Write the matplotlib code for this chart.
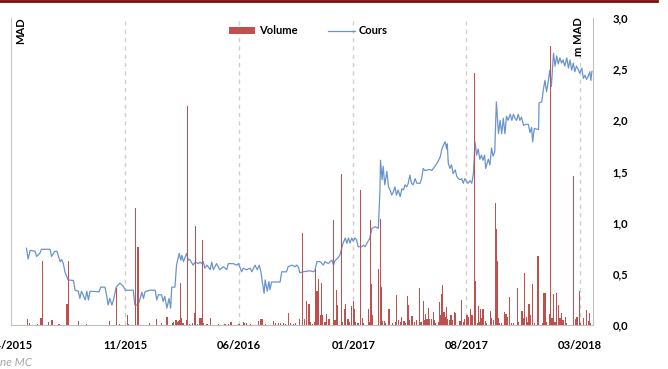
import numpy as np
import pandas as pd
import matplotlib
matplotlib.use("Agg")
import matplotlib.pyplot as plt
from matplotlib.lines import Line2D
from matplotlib.ticker import FuncFormatter

plt.rcParams['font.family'] = ['Lato', 'DejaVu Sans']

# cours (echelle gauche non visible)
price_dates = [
    "2015-04-30", "2015-05-03", "2015-05-07", "2015-05-16", "2015-05-19", "2015-05-25", "2015-05-28",
    "2015-06-13", "2015-06-16", "2015-06-22", "2015-06-26", "2015-06-29", "2015-07-02", "2015-07-05",
    "2015-07-08", "2015-07-11", "2015-07-17", "2015-07-27", "2015-07-30", "2015-08-05", "2015-08-08",
    "2015-08-11", "2015-08-18", "2015-08-21", "2015-08-24", "2015-08-27", "2015-09-13", "2015-09-16",
    "2015-09-24", "2015-09-27", "2015-09-30", "2015-10-03", "2015-10-07", "2015-10-10", "2015-10-15",
    "2015-10-22", "2015-10-28", "2015-11-01", "2015-11-16", "2015-11-19", "2015-11-25", "2015-11-29",
    "2015-12-02", "2015-12-05", "2015-12-08", "2015-12-17", "2015-12-27", "2015-12-30", "2016-01-02",
    "2016-01-08", "2016-01-11", "2016-01-14", "2016-01-18", "2016-01-22", "2016-01-25", "2016-01-27",
    "2016-02-02", "2016-02-05", "2016-02-10", "2016-02-13", "2016-02-15", "2016-02-18", "2016-02-24",
    "2016-02-27", "2016-03-01", "2016-03-07", "2016-03-11", "2016-03-17", "2016-03-20", "2016-03-23",
    "2016-03-26", "2016-03-29", "2016-04-02", "2016-04-08", "2016-04-11", "2016-04-14", "2016-04-20",
    "2016-04-26", "2016-05-03", "2016-05-09", "2016-05-12", "2016-05-21", "2016-05-28", "2016-05-31",
    "2016-06-06", "2016-06-09", "2016-06-15", "2016-06-22", "2016-06-25", "2016-07-01", "2016-07-05",
    "2016-07-09", "2016-07-12", "2016-07-15", "2016-07-18", "2016-07-20", "2016-07-24", "2016-07-27",
    "2016-07-29", "2016-08-01", "2016-08-17", "2016-08-20", "2016-08-29", "2016-09-01", "2016-09-08",
    "2016-09-14", "2016-09-17", "2016-09-20", "2016-09-23", "2016-09-29", "2016-10-06", "2016-10-12",
    "2016-10-18", "2016-10-21", "2016-10-25", "2016-10-31", "2016-11-06", "2016-11-09", "2016-11-15",
    "2016-11-22", "2016-11-25", "2016-11-28", "2016-12-04", "2016-12-07", "2016-12-13", "2016-12-17",
    "2016-12-20", "2016-12-23", "2016-12-26", "2016-12-29", "2017-01-01", "2017-01-04", "2017-01-07",
    "2017-01-10", "2017-01-17", "2017-01-20", "2017-01-23", "2017-01-29", "2017-02-01", "2017-02-05",
    "2017-02-11", "2017-02-17", "2017-02-20", "2017-02-21", "2017-02-24", "2017-02-26", "2017-03-01",
    "2017-03-05", "2017-03-08", "2017-03-11", "2017-03-14", "2017-03-17", "2017-03-20", "2017-03-23",
    "2017-03-26", "2017-03-30", "2017-04-02", "2017-04-05", "2017-04-08", "2017-04-11", "2017-04-14",
    "2017-04-17", "2017-04-20", "2017-04-23", "2017-04-27", "2017-04-30", "2017-05-06", "2017-05-09",
    "2017-05-12", "2017-05-15", "2017-05-25", "2017-05-28", "2017-06-03", "2017-06-09", "2017-06-13",
    "2017-06-16", "2017-06-19", "2017-06-22", "2017-06-25", "2017-06-26", "2017-06-28", "2017-07-01",
    "2017-07-04", "2017-07-07", "2017-07-11", "2017-07-14", "2017-07-17", "2017-07-20", "2017-07-23",
    "2017-07-26", "2017-07-29", "2017-08-04", "2017-08-08", "2017-08-11", "2017-08-14", "2017-08-17",
    "2017-08-20", "2017-08-23", "2017-08-26", "2017-08-29", "2017-09-01", "2017-09-04", "2017-09-06",
    "2017-09-11", "2017-09-14", "2017-09-17", "2017-09-20", "2017-09-23", "2017-09-26", "2017-09-30",
    "2017-10-03", "2017-10-06", "2017-10-09", "2017-10-12", "2017-10-15", "2017-10-18", "2017-10-22",
    "2017-10-25", "2017-10-28", "2017-10-31", "2017-11-03", "2017-11-06", "2017-11-09", "2017-11-12",
    "2017-11-16", "2017-11-19", "2017-11-25", "2017-11-28", "2017-12-01", "2017-12-03", "2017-12-06",
    "2017-12-14", "2017-12-15", "2017-12-20", "2017-12-23", "2017-12-26", "2017-12-29", "2018-01-01",
    "2018-01-04", "2018-01-07", "2018-01-11", "2018-01-14", "2018-01-17", "2018-01-20", "2018-01-23",
    "2018-01-26", "2018-01-29", "2018-02-01", "2018-02-05", "2018-02-08", "2018-02-11", "2018-02-14",
    "2018-02-17", "2018-02-20", "2018-02-23", "2018-02-26", "2018-03-01", "2018-03-05", "2018-03-08",
    "2018-03-11", "2018-03-14", "2018-03-17", "2018-03-20", "2018-03-22", "2018-03-24",
]
price_values = [
    0.75, 0.645, 0.73, 0.72, 0.67, 0.70, 0.74,
    0.74, 0.67, 0.72, 0.72, 0.67, 0.62, 0.64,
    0.60, 0.52, 0.44, 0.435, 0.34, 0.33, 0.26,
    0.33, 0.245, 0.33, 0.245, 0.33, 0.325, 0.37,
    0.37, 0.29, 0.195, 0.26, 0.195, 0.245, 0.37,
    0.41, 0.38, 0.34, 0.34, 0.195, 0.195, 0.26,
    0.32, 0.26, 0.325, 0.34, 0.34, 0.245, 0.295,
    0.295, 0.23, 0.28, 0.165, 0.26, 0.165, 0.37,
    0.37, 0.585, 0.70, 0.635, 0.68, 0.62, 0.70,
    0.635, 0.64, 0.585, 0.615, 0.60, 0.615, 0.60,
    0.62, 0.555, 0.585, 0.54, 0.615, 0.54, 0.60,
    0.54, 0.57, 0.54, 0.60, 0.60, 0.585, 0.60,
    0.52, 0.555, 0.54, 0.555, 0.52, 0.585, 0.54,
    0.585, 0.52, 0.41, 0.31, 0.44, 0.33, 0.425,
    0.345, 0.42, 0.42, 0.52, 0.52, 0.57, 0.585,
    0.57, 0.585, 0.57, 0.51, 0.52, 0.525, 0.53,
    0.52, 0.53, 0.62, 0.62, 0.585, 0.62, 0.60,
    0.635, 0.585, 0.63, 0.66, 0.685, 0.80, 0.85,
    0.80, 0.85, 0.80, 0.85, 0.82, 0.85, 0.835,
    0.765, 0.765, 0.78, 0.765, 0.82, 0.85, 0.945,
    0.96, 0.945, 1.32, 1.61, 1.42, 1.55, 1.37,
    1.50, 1.35, 1.32, 1.27, 1.30, 1.35, 1.27,
    1.32, 1.255, 1.33, 1.32, 1.37, 1.35, 1.385,
    1.465, 1.385, 1.37, 1.43, 1.385, 1.385, 1.43,
    1.53, 1.51, 1.52, 1.51, 1.55, 1.60, 1.645,
    1.72, 1.76, 1.79, 1.72, 1.77, 1.58, 1.53,
    1.565, 1.48, 1.515, 1.45, 1.43, 1.42, 1.43,
    1.385, 1.43, 1.385, 1.41, 1.385, 1.48, 1.79,
    1.66, 1.72, 1.62, 1.66, 1.61, 1.66, 1.53,
    1.62, 1.565, 1.73, 1.65, 1.695, 2.18, 1.87,
    2.0, 1.87, 2.02, 1.87, 2.04, 2.0, 2.06,
    2.0, 2.06, 2.02, 2.0, 2.06, 2.0, 2.03,
    1.95, 1.96, 1.96, 1.88, 1.93, 1.79, 1.92,
    1.91, 2.17, 2.18, 2.30, 2.39, 2.28, 2.37,
    2.49, 2.33, 2.655, 2.53, 2.63, 2.55, 2.61,
    2.56, 2.59, 2.53, 2.61, 2.51, 2.59, 2.49,
    2.56, 2.475, 2.53, 2.50, 2.46, 2.51, 2.41,
    2.44, 2.40, 2.43, 2.475, 2.39, 2.48,
]

# volume en m MAD (echelle droite)
vol_dates = [
    "2015-05-02", "2015-05-05", "2015-05-21", "2015-05-27", "2015-05-30", "2015-06-10", "2015-06-17",
    "2015-06-30", "2015-07-15", "2015-07-17", "2015-08-05", "2015-08-21", "2015-10-02", "2015-10-15",
    "2015-10-21", "2015-11-05", "2015-11-07", "2015-11-20", "2015-11-25", "2015-12-17", "2015-12-29",
    "2016-01-08", "2016-01-18", "2016-01-29", "2016-01-31", "2016-02-04", "2016-02-06", "2016-02-08",
    "2016-02-10", "2016-02-13", "2016-02-15", "2016-02-17", "2016-02-23", "2016-02-25", "2016-02-29",
    "2016-03-06", "2016-03-09", "2016-03-11", "2016-03-15", "2016-03-19", "2016-03-22", "2016-03-24",
    "2016-03-27", "2016-04-02", "2016-04-08", "2016-04-23", "2016-05-06", "2016-05-12", "2016-05-17",
    "2016-06-01", "2016-06-09", "2016-06-12", "2016-06-15", "2016-06-22", "2016-07-07", "2016-07-12",
    "2016-07-14", "2016-07-20", "2016-08-04", "2016-08-09", "2016-08-14", "2016-08-18", "2016-08-23",
    "2016-08-27", "2016-09-01", "2016-09-05", "2016-09-11", "2016-09-15", "2016-09-22", "2016-09-28",
    "2016-10-01", "2016-10-06", "2016-10-10", "2016-10-13", "2016-10-16", "2016-10-20", "2016-10-22",
    "2016-10-25", "2016-10-28", "2016-10-31", "2016-11-03", "2016-11-05", "2016-11-09", "2016-11-12",
    "2016-11-15", "2016-11-17", "2016-11-25", "2016-11-28", "2016-12-01", "2016-12-03", "2016-12-10",
    "2016-12-12", "2016-12-16", "2016-12-18", "2016-12-22", "2016-12-24", "2016-12-29", "2017-01-01",
    "2017-01-03", "2017-01-05", "2017-01-10", "2017-01-14", "2017-01-18", "2017-01-20", "2017-01-29",
    "2017-01-31", "2017-02-02", "2017-02-04", "2017-02-06", "2017-02-17", "2017-02-21", "2017-02-23",
    "2017-02-24", "2017-02-28", "2017-03-03", "2017-03-09", "2017-03-15", "2017-03-21", "2017-03-23",
    "2017-03-27", "2017-03-30", "2017-04-02", "2017-04-06", "2017-04-09", "2017-04-12", "2017-04-14",
    "2017-04-17", "2017-04-21", "2017-04-22", "2017-04-25", "2017-04-29", "2017-05-05", "2017-05-08",
    "2017-05-12", "2017-05-15", "2017-05-17", "2017-05-19", "2017-05-22", "2017-05-24", "2017-05-27",
    "2017-05-31", "2017-06-02", "2017-06-04", "2017-06-09", "2017-06-11", "2017-06-14", "2017-06-15",
    "2017-06-17", "2017-06-20", "2017-06-22", "2017-06-24", "2017-06-26", "2017-06-30", "2017-07-03",
    "2017-07-05", "2017-07-09", "2017-07-11", "2017-07-20", "2017-07-23", "2017-07-26", "2017-07-29",
    "2017-08-02", "2017-08-05", "2017-08-08", "2017-08-11", "2017-08-13", "2017-08-16", "2017-08-17",
    "2017-08-21", "2017-08-23", "2017-08-25", "2017-08-27", "2017-08-30", "2017-09-01", "2017-09-05",
    "2017-09-08", "2017-09-15", "2017-09-17", "2017-09-21", "2017-09-24", "2017-09-26", "2017-09-28",
    "2017-09-30", "2017-10-02", "2017-10-06", "2017-10-11", "2017-10-14", "2017-10-16", "2017-10-20",
    "2017-10-25", "2017-10-28", "2017-11-04", "2017-11-07", "2017-11-13", "2017-11-16", "2017-11-18",
    "2017-11-21", "2017-11-24", "2017-11-26", "2017-11-29", "2017-12-02", "2017-12-06", "2017-12-13",
    "2017-12-21", "2017-12-23", "2017-12-26", "2017-12-29", "2018-01-03", "2018-01-06", "2018-01-08",
    "2018-01-11", "2018-01-14", "2018-01-17", "2018-01-20", "2018-01-23", "2018-01-26", "2018-01-29",
    "2018-02-02", "2018-02-05", "2018-02-17", "2018-02-21", "2018-02-24", "2018-02-28", "2018-03-03",
    "2018-03-08", "2018-03-14", "2018-03-17", "2018-03-20", "2018-03-22",
]
vol_values = [
    0.06, 0.02, 0.01, 0.065, 0.625, 0.03, 0.05,
    0.01, 0.21, 0.625, 0.04, 0.01, 0.04, 0.36,
    0.01, 0.10, 0.01, 1.14, 0.76, 0.015, 0.06,
    0.015, 0.08, 0.02, 0.03, 0.05, 0.03, 0.04,
    0.05, 0.41, 0.07, 0.02, 0.05, 2.14, 0.01,
    0.02, 0.115, 0.97, 0.01, 0.07, 0.07, 0.83,
    0.02, 0.01, 0.07, 0.01, 0.01, 0.01, 0.03,
    0.01, 0.025, 0.02, 0.02, 0.01, 0.04, 0.06,
    0.06, 0.01, 0.035, 0.02, 0.02, 0.02, 0.02,
    0.01, 0.115, 0.02, 0.01, 0.02, 0.06, 0.90,
    0.06, 0.23, 0.205, 0.03, 0.01, 0.03, 0.545,
    0.335, 0.45, 0.10, 0.41, 0.10, 0.03, 0.11,
    0.055, 0.055, 1.03, 0.05, 0.34, 0.195, 1.48,
    0.025, 0.155, 0.205, 0.055, 0.03, 0.19, 0.235,
    0.155, 0.025, 0.015, 1.32, 0.065, 0.015, 0.155,
    0.025, 1.025, 0.40, 0.10, 0.545, 1.035, 0.375,
    0.04, 0.04, 0.015, 0.155, 0.015, 0.03, 0.295,
    0.05, 0.03, 0.075, 0.04, 0.015, 0.28, 0.195,
    0.05, 0.09, 0.05, 0.03, 0.05, 0.365, 0.03,
    0.235, 0.05, 0.11, 0.055, 0.17, 0.055, 0.055,
    0.13, 0.05, 0.015, 0.03, 0.225, 0.10, 0.30,
    0.39, 0.13, 0.08, 0.18, 0.055, 0.05, 0.10,
    0.05, 0.13, 0.12, 0.04, 0.245, 0.03, 0.06,
    0.10, 0.08, 0.155, 0.10, 0.10, 2.46, 0.43,
    0.02, 0.185, 0.03, 0.16, 0.065, 0.16, 0.04,
    0.015, 0.135, 0.07, 0.05, 1.19, 0.94, 0.63,
    0.065, 0.015, 0.02, 0.125, 0.105, 0.08, 0.27,
    0.015, 0.02, 0.36, 0.03, 0.14, 0.07, 0.51,
    0.08, 0.03, 0.21, 0.10, 0.40, 0.015, 0.675,
    0.015, 0.315, 0.315, 0.03, 0.105, 2.73, 0.065,
    0.30, 0.03, 0.31, 0.195, 0.07, 0.115, 0.05,
    0.08, 0.015, 1.46, 0.055, 0.075, 0.335, 0.015,
    0.065, 0.145, 0.04, 0.12, 0.015,
]

tick_dates = ["2015-04-01", "2015-11-01", "2016-06-01", "2017-01-01", "2017-08-01", "2018-03-01"]
tick_labels = ["04/2015", "11/2015", "06/2016", "01/2017", "08/2017", "03/2018"]
vol_ticks = [0.0, 0.5, 1.0, 1.5, 2.0, 2.5, 3.0]

W, H = 668, 369
fig = plt.figure(figsize=(W / 100, H / 100), dpi=100)
ax = fig.add_axes([11 / W, 44 / H, 582 / W, 307 / H])
ax2 = ax.twinx()

# grille verticale en pointilles
for d in tick_dates[1:]:
    ax.axvline(pd.Timestamp(d), color='#CFCFCF', lw=1.0, ls=(0, (3, 3)), zorder=0)

ax.plot(pd.to_datetime(price_dates), price_values, color='#6A94CD', lw=0.9, label='Cours', zorder=2)
ax2.bar(pd.to_datetime(vol_dates), vol_values, width=2.3, color='#C0504D', linewidth=0, label='Volume')

ax.set_xlim(pd.Timestamp("2015-04-01"), pd.Timestamp("2018-03-26"))
ax.set_ylim(0, 3)
ax2.set_ylim(0, 3)

ax.set_xticks(pd.to_datetime(tick_dates))
ax.set_xticklabels(tick_labels, fontsize=8, fontweight='bold')
ax.tick_params(axis='x', length=0, pad=11)
ax.tick_params(axis='y', left=False, labelleft=False)

ax2.set_yticks(vol_ticks)
ax2.yaxis.set_major_formatter(FuncFormatter(lambda v, p: ("%.1f" % v).replace('.', ',')))
ax2.tick_params(axis='y', length=0, pad=14, labelsize=8)
for lb in ax2.get_yticklabels():
    lb.set_fontweight('bold')

for a in (ax, ax2):
    a.spines['top'].set_visible(False)
ax.spines['right'].set_visible(False)
ax2.spines['left'].set_visible(False)
ax2.spines['bottom'].set_visible(False)
ax.spines['left'].set_color('#C8C8C8')
ax.spines['bottom'].set_color('#BFBFBF')
ax2.spines['right'].set_color('#BFBFBF')

h1, l1 = ax2.get_legend_handles_labels()
h2, l2 = ax.get_legend_handles_labels()
leg = ax2.legend(h1 + h2, l1 + l2, loc='center', bbox_to_anchor=(308 / W, 1 - 31 / H),
                 bbox_transform=fig.transFigure, ncol=2, frameon=False,
                 handlelength=2.4, handleheight=0.5, handletextpad=0.3, columnspacing=2.8,
                 prop={'weight': 'bold', 'size': 8})

fig.text(21 / W, 1 - 17 / H, 'MAD', rotation=90, ha='center', va='top', fontsize=8, fontweight='bold')
fig.text(578 / W, 1 - 17 / H, 'm MAD', rotation=90, ha='center', va='top', fontsize=8, fontweight='bold')
fig.text(0, 1 - 362 / H, 'ne MC', ha='left', va='center', fontsize=8.5, style='italic', color='#A6A6A6')

# filet bordeaux en haut
fig.add_artist(Line2D([0, 657 / W], [1 - 1.2 / H, 1 - 1.2 / H], transform=fig.transFigure,
                      color='#7A0B0B', lw=2.0))

fig.savefig('out.png', dpi=100)
